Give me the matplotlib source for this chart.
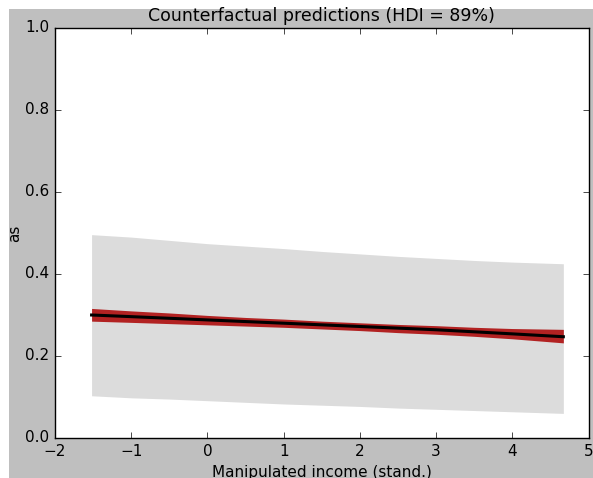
import matplotlib
matplotlib.use("Agg")
import matplotlib.pyplot as plt
import matplotlib.patches as mpatches
import numpy as np

# manipulated income (standardised) and the predictions
income = [-1.52, -1.0, -0.5, 0.0, 0.5, 1.0, 1.5, 2.0, 2.5, 3.0, 3.5, 4.0, 4.67]
mu_mean = [0.300, 0.296, 0.292, 0.288, 0.284, 0.280, 0.276, 0.272, 0.268, 0.264, 0.259, 0.254, 0.247]
mu_hdi_low = [0.285, 0.282, 0.279, 0.276, 0.273, 0.270, 0.266, 0.262, 0.257, 0.253, 0.248, 0.242, 0.232]
mu_hdi_high = [0.316, 0.310, 0.305, 0.299, 0.294, 0.290, 0.285, 0.281, 0.277, 0.274, 0.270, 0.267, 0.265]
pred_hdi_low = [0.103, 0.098, 0.095, 0.091, 0.087, 0.083, 0.080, 0.077, 0.073, 0.070, 0.067, 0.064, 0.060]
pred_hdi_high = [0.496, 0.490, 0.482, 0.474, 0.468, 0.462, 0.455, 0.449, 0.443, 0.438, 0.433, 0.429, 0.425]

plt.style.use("classic")
fig = plt.figure(figsize=(5.93, 4.78), dpi=100, facecolor="white")
# grey figure background of the (cropped) original
fig.patches.append(mpatches.Rectangle((9 / 593, 0), 1, 1 - 9 / 478, transform=fig.transFigure,
                                      facecolor="0.75", edgecolor="none", zorder=-10))

ax = fig.add_axes([55 / 593, 40 / 478, 533.5 / 593, 410 / 478])
ax.fill_between(income, pred_hdi_low, pred_hdi_high, color="#dcdcdc", linewidth=0)
ax.fill_between(income, mu_hdi_low, mu_hdi_high, color="#b22222", linewidth=0)
ax.plot(income, mu_mean, color="black", linewidth=2.2)

ax.set_xlim(-2, 5)
ax.set_ylim(0, 1)
ax.set_xticks(range(-2, 6))
ax.set_yticks([0.0, 0.2, 0.4, 0.6, 0.8, 1.0])
ax.tick_params(labelsize=11)
ax.set_title("Counterfactual predictions (HDI = 89%)", fontsize=12.5, pad=5)
ax.set_xlabel("Manipulated income (stand.)", fontsize=11)
ax.set_ylabel("as", fontsize=11, labelpad=2)

fig.savefig("out.png", dpi=100, facecolor=fig.get_facecolor())
